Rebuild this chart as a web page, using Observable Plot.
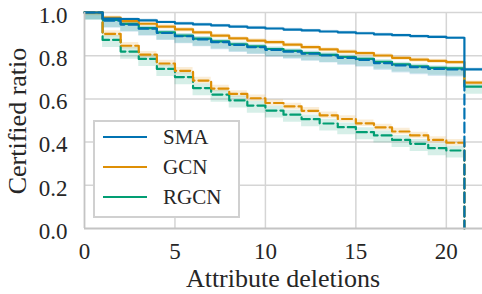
<!DOCTYPE html>
<html><head><meta charset="utf-8">
<script src="https://cdn.jsdelivr.net/npm/d3@7"></script>
<script src="https://cdn.jsdelivr.net/npm/@observablehq/plot@0.6"></script>
<style>
body{margin:0;background:#fff;}
#wrap{position:relative;width:482px;height:294px;}
#legend{position:absolute;left:93px;top:120px;}
#wrap svg text{font-family:'Liberation Serif','DejaVu Serif',serif !important;}
</style></head><body><div id="wrap"></div>
<script>
// x values (number of attribute deletions)
const deletions = [0,1,2,3,4,5,6,7,8,9,10,11,12,13,14,15,16,17,18,19,20,21,22];
const dashedDeletions = [0,1,2,3,4,5,6,7,8,9,10,11,12,13,14,15,16,17,18,19,20,21];

// solid curves
const smaSolid  = [1.0,0.972,0.970,0.964,0.956,0.950,0.945,0.940,0.935,0.930,0.926,0.921,0.917,0.912,0.908,0.904,0.899,0.895,0.891,0.887,0.883,0.737,0.737];
const gcnSolid  = [1.0,0.976,0.960,0.948,0.935,0.922,0.908,0.893,0.880,0.870,0.863,0.851,0.840,0.829,0.819,0.812,0.801,0.790,0.782,0.776,0.770,0.675,0.675];
const rgcnSolid = [1.0,0.966,0.947,0.928,0.908,0.893,0.879,0.866,0.853,0.843,0.831,0.822,0.812,0.804,0.794,0.785,0.772,0.760,0.751,0.744,0.741,0.657,0.657];

// dashed curves
const smaDashed  = [1.0,0.962,0.944,0.925,0.905,0.890,0.876,0.863,0.850,0.840,0.827,0.819,0.809,0.801,0.790,0.781,0.766,0.755,0.747,0.739,0.736,0.0];
const gcnDashed  = [1.0,0.901,0.846,0.805,0.764,0.730,0.685,0.648,0.623,0.603,0.581,0.565,0.545,0.524,0.507,0.487,0.468,0.449,0.431,0.410,0.397,0.0];
const rgcnDashed = [1.0,0.873,0.819,0.785,0.739,0.701,0.650,0.620,0.593,0.569,0.546,0.527,0.506,0.486,0.469,0.446,0.431,0.410,0.392,0.372,0.361,0.0];

// estimated confidence band extents (below / above the curve)
const smaSolidBand  = [0.008, 0.006];
const gcnSolidBand  = [0.012, 0.008];
const rgcnSolidBand = [0.035, 0.010];
const smaDashedBand = [0.035, 0.010];
const gcnDashedBand = [0.015, 0.015];
const rgcnDashedBand= [0.035, 0.020];

const models = ["SMA","GCN","RGCN"];
const colors = ["#0173b2","#de8f05","#029e73"];

const xTicks = [0,5,10,15,20];
const yTicks = [0.0,0.2,0.4,0.6,0.8,1.0];

const series = [
  {model:"RGCN", dashed:false, xs:deletions, ys:rgcnSolid, band:rgcnSolidBand},
  {model:"RGCN", dashed:true,  xs:dashedDeletions, ys:rgcnDashed, band:rgcnDashedBand},
  {model:"GCN",  dashed:false, xs:deletions, ys:gcnSolid, band:gcnSolidBand},
  {model:"GCN",  dashed:true,  xs:dashedDeletions, ys:gcnDashed, band:gcnDashedBand},
  {model:"SMA",  dashed:false, xs:deletions, ys:smaSolid, band:smaSolidBand},
  {model:"SMA",  dashed:true,  xs:dashedDeletions, ys:smaDashed, band:smaDashedBand},
];
const colorOf = m => colors[models.indexOf(m)];
const rowsOf = s => s.ys.map((v,i) => ({x:s.xs[i], y:v, lo:Math.max(0, v - s.band[0]), hi:Math.min(1, v + s.band[1])}));

const fontFam = "'Liberation Serif','DejaVu Serif',serif";
const marks = [
  Plot.gridX(xTicks.slice(1), {stroke:"#d5d5d5", strokeOpacity:1, strokeWidth:1.5}),
  Plot.gridY(yTicks.slice(1), {stroke:"#d5d5d5", strokeOpacity:1, strokeWidth:1.5}),
];
for (const s of series) {
  marks.push(Plot.areaY(rowsOf(s), {x:"x", y1:"lo", y2:"hi", fill:colorOf(s.model), fillOpacity:0.16, curve:"step-after"}));
}
for (const s of series) {
  marks.push(Plot.line(rowsOf(s), {x:"x", y:"y", stroke:colorOf(s.model), strokeWidth:2.2,
    strokeDasharray: s.dashed ? "10,4" : null, curve:"step-after"}));
}
marks.push(Plot.ruleX([0], {stroke:"#c4c4c4", strokeWidth:1.8}));
marks.push(Plot.ruleY([0], {stroke:"#c4c4c4", strokeWidth:1.8}));
marks.push(Plot.axisX(xTicks, {tickSize:0, tickPadding:14, fontSize:23, fill:"#262626", label:null}));
marks.push(Plot.axisY(yTicks, {tickSize:0, tickPadding:17, fontSize:23, fill:"#262626", label:null, tickFormat:d3.format(".1f"), dy:3}));

const chart = Plot.plot({
  width:482, height:294,
  marginLeft:84, marginRight:0, marginTop:12, marginBottom:66,
  x:{domain:[0,22]},
  y:{domain:[0,1]},
  style:{background:"#fff", overflow:"visible", fontFamily:fontFam},
  marks
});
const wrap = document.getElementById("wrap");
wrap.appendChild(chart);

const svg = d3.select(chart);
svg.append("text").attr("x",283).attr("y",287).attr("text-anchor","middle")
  .attr("font-size",26).attr("fill","#262626").text("Attribute deletions");
svg.append("text").attr("transform","translate(26,121) rotate(-90)").attr("text-anchor","middle")
  .attr("font-size",26).attr("fill","#262626").text("Certified ratio");
svg.selectAll("text, tspan").style("font-family", fontFam, "important");

// legend
const leg = d3.select(wrap).append("div").attr("id","legend")
  .append("svg").attr("width",148).attr("height",99);
leg.append("rect").attr("x",1).attr("y",1).attr("width",145).attr("height",96)
  .attr("fill","#fff").attr("stroke","#d0d0d0").attr("stroke-width",2);
models.forEach((m,i) => {
  const cy = 17 + i*30;
  leg.append("line").attr("x1",10).attr("x2",54).attr("y1",cy).attr("y2",cy)
    .attr("stroke",colors[i]).attr("stroke-width",2.2);
  leg.append("text").attr("x",70).attr("y",cy).attr("dy","0.35em")
    .attr("font-size",21).attr("fill","#262626").text(m);
});
</script></body></html>
